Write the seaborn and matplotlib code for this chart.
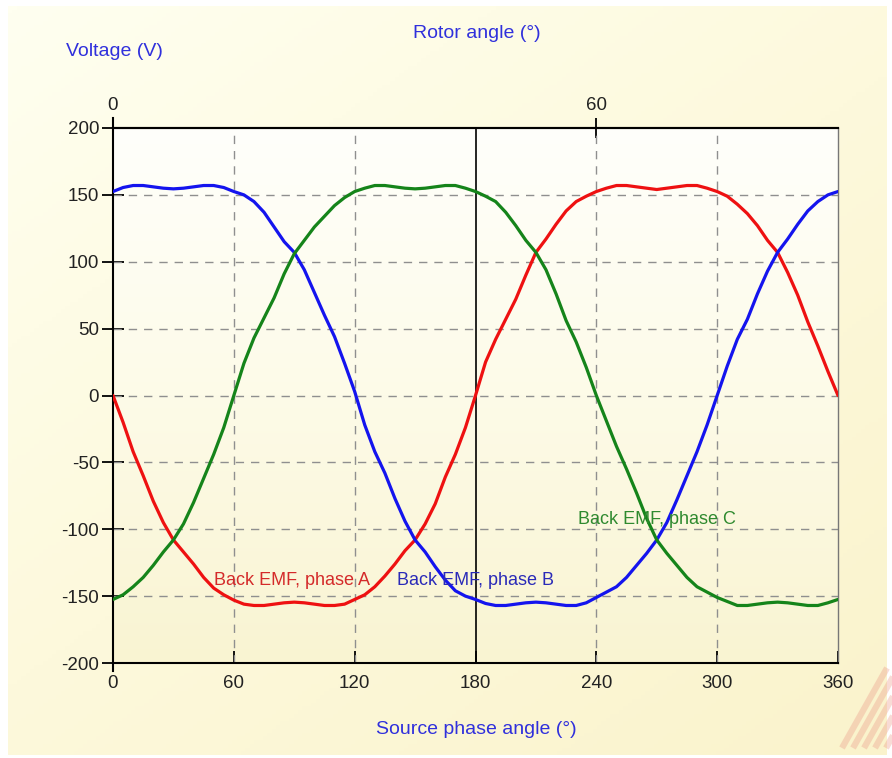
import numpy as np
import pandas as pd
import matplotlib
matplotlib.use("Agg")
import matplotlib.pyplot as plt
from matplotlib.colors import LinearSegmentedColormap
import seaborn as sns

# ---------------- data ----------------
angles = list(range(0, 361, 5))

phase_a = [0, -20, -42, -60, -79, -95, -108, -117, -126, -136, -144, -149,
           -153, -156, -157, -157, -156, -155, -154.5, -155, -156, -157, -157, -156,
           -152.5, -149, -143, -135, -126, -116, -108, -96, -81, -61, -44, -24,
           0, 25, 42, 57, 72, 90, 107, 117, 128, 138, 145, 149,
           152.5, 155, 157, 157, 156, 155, 154, 155, 156, 157, 157, 155,
           152.5, 149, 143, 136, 127, 116, 107, 92, 75, 55, 37, 18,
           0]

phase_b = [152.5, 155.5, 157, 157, 156, 155, 154.5, 155, 156, 157, 157, 155.5,
           152.5, 150, 145, 137, 126, 115, 107, 94, 77, 60, 44, 24,
           3, -22, -42, -58, -77, -94, -108, -117, -128, -138, -146, -150,
           -152.5, -155.5, -157, -157, -156, -155, -154.5, -155, -156, -157, -157, -155,
           -151, -147, -143, -136, -127, -118, -108, -95, -78, -60, -42, -22,
           0, 22, 42, 57, 76, 93, 107, 117, 128, 138, 145, 150,
           152.5]

phase_c = [-152.5, -149, -143, -136, -127, -117, -108, -96, -80, -62, -44, -24,
           0, 24, 43, 58, 73, 91, 106, 116, 126, 134, 142, 148,
           152.5, 155, 157, 157, 156, 155, 154.5, 155, 156, 157, 157, 155,
           152.5, 149, 145, 137, 127, 116, 107, 94, 76, 56, 40, 21,
           0, -19, -38, -55, -73, -92, -108, -118, -127, -136, -143, -147,
           -151, -154, -157, -157, -156, -155, -154.5, -155, -156, -157, -157, -155,
           -152.5]

phase_names = ["Back EMF, phase A", "Back EMF, phase B", "Back EMF, phase C"]
line_colors = ["#ee1111", "#1414ee", "#15841a"]
label_colors = ["#d42a2a", "#2a2ab8", "#2f8a2f"]
label_pos = [(50, -138), (141, -138), (231, -93)]

y_ticks = [-200, -150, -100, -50, 0, 50, 100, 150, 200]
x_ticks = [0, 60, 120, 180, 240, 300, 360]
top_ticks = [0, 60]

df = pd.DataFrame({
    "angle": angles * 3,
    "voltage": phase_a + phase_b + phase_c,
    "phase": [phase_names[0]] * len(angles) + [phase_names[1]] * len(angles)
             + [phase_names[2]] * len(angles),
})

# ---------------- styling ----------------
sns.set_theme(style="white")
plt.rcParams["font.family"] = ["Liberation Sans", "DejaVu Sans"]
plt.rcParams["axes.unicode_minus"] = False

W, H = 892, 758
fig = plt.figure(figsize=(W / 100, H / 100), dpi=100)
fig.patch.set_facecolor("white")

# figure background gradient (cream)
bg = fig.add_axes([0.009, 0.004, 0.985, 0.988], zorder=-10)
bg.set_axis_off()
gy, gx = np.mgrid[0:1:200j, 0:1:200j]
gval = 0.55 * gy + 0.45 * gx
bg_cmap = LinearSegmentedColormap.from_list("bgc", ["#fffff0", "#fdf9dc", "#faf3cc"])
bg.imshow(gval, cmap=bg_cmap, aspect="auto", extent=[0, 1, 0, 1], origin="upper")
bg.set_xlim(0, 1)
bg.set_ylim(0, 1)

# faint logo stripes bottom-right
for i in range(5):
    x0 = 842 + i * 11
    fig.add_artist(plt.Line2D([x0 / W, (x0 + 45) / W],
                              [1 - 748 / H, 1 - 668 / H],
                              transform=fig.transFigure, color="#eb9a88",
                              lw=4.5, alpha=0.35, solid_capstyle="butt"))

L, R, T, B = 113, 838, 128, 663
ax = fig.add_axes([L / W, 1 - B / H, (R - L) / W, (B - T) / H])
ax.set_facecolor("none")

# plot-area gradient: near white at top, light yellow at bottom
pg = np.linspace(0, 1, 200).reshape(-1, 1)
p_cmap = LinearSegmentedColormap.from_list("pc", ["#fffffb", "#fdfbe8", "#f9f4d2"])
ax.imshow(pg, cmap=p_cmap, aspect="auto", extent=[0, 1, 0, 1],
          transform=ax.transAxes, zorder=0, origin="upper")

sns.lineplot(data=df, x="angle", y="voltage", hue="phase",
             palette=dict(zip(phase_names, line_colors)),
             linewidth=2.3, legend=False, ax=ax, zorder=5, sort=False)

ax.set_xlim(0, 360)
ax.set_ylim(-200, 200)
ax.set_xticks(x_ticks)
ax.set_yticks(y_ticks)
ax.set_xticklabels([str(v) for v in x_ticks])
ax.set_yticklabels([str(v) for v in y_ticks])
ax.set_xlabel("")
ax.set_ylabel("")

# grid
for xv in x_ticks[1:-1]:
    if xv == 180:
        ax.axvline(xv, color="black", lw=1.2, zorder=3)
    else:
        ax.axvline(xv, color="#8f8f8f", lw=1.0, ls=(0, (6, 5)), zorder=2)
for yv in y_ticks[1:-1]:
    ax.axhline(yv, color="#8f8f8f", lw=1.0, ls=(0, (6, 5)), zorder=2)

# spines and ticks
for s in ["left", "bottom", "top"]:
    ax.spines[s].set_color("black")
    ax.spines[s].set_linewidth(1.5)
ax.spines["right"].set_color("#777777")
ax.spines["right"].set_linewidth(1.0)
ax.spines["left"].set_bounds(-206, 207.5)

ax.tick_params(axis="x", which="both", direction="in", length=8.5, width=1.3,
               color="black", labelsize=13.5, pad=9, bottom=True, top=False,
               labelcolor="#222222")
ax.tick_params(axis="y", which="both", direction="inout", length=16, width=1.3,
               color="black", labelsize=13.5, pad=2, left=True, right=False,
               labelcolor="#222222")

sec = ax.secondary_xaxis("top", functions=(lambda x: x / 4, lambda x: x * 4))
sec.set_xticks(top_ticks)
sec.set_xticklabels([str(v) for v in top_ticks])
sec.tick_params(axis="x", direction="inout", length=14, width=1.3, color="black",
                labelsize=13.5, pad=3, labelcolor="#222222")
sec.spines["top"].set_color("black")
sec.spines["top"].set_linewidth(1.5)

# series labels
for name, col, (xv, yv) in zip(phase_names, label_colors, label_pos):
    ax.text(xv, yv, name, color=col, fontsize=13, ha="left", va="center", zorder=6)

# axis titles
title_col = "#3030dc"
fig.text(114 / W, 1 - 52 / H, "Voltage (V)", color=title_col, fontsize=14,
         ha="center", va="center")
fig.text(477 / W, 1 - 33 / H, "Rotor angle (°)", color=title_col, fontsize=14,
         ha="center", va="center")
fig.text(476 / W, 1 - 730 / H, "Source phase angle (°)", color=title_col, fontsize=14,
         ha="center", va="center")

fig.savefig("out.png", dpi=100)
